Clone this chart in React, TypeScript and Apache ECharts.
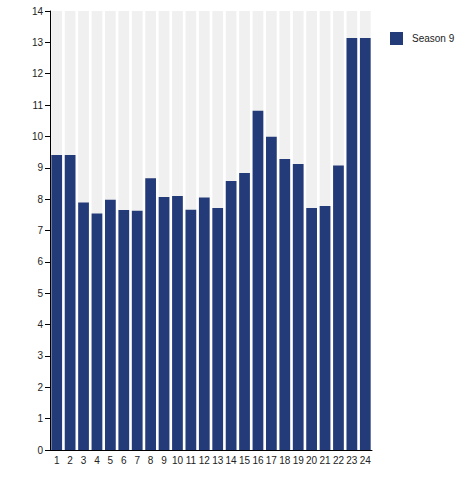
import React, { useEffect, useRef } from "react";
import * as echarts from "echarts";

const categories = ["1","2","3","4","5","6","7","8","9","10","11","12","13","14","15","16","17","18","19","20","21","22","23","24"];
const season9 = [9.41, 9.41, 7.89, 7.54, 7.98, 7.65, 7.63, 8.67, 8.07, 8.10, 7.66, 8.05, 7.72, 8.58, 8.83, 10.82, 9.99, 9.28, 9.12, 7.72, 7.78, 9.07, 13.14, 13.14];
const seriesName = "Season 9";
const yMin = 0;
const yMax = 14;
const yStep = 1;

export default function App() {
  const ref = useRef<HTMLDivElement>(null);
  useEffect(() => {
    if (!ref.current) return;
    const chart = echarts.init(ref.current, null, { renderer: "svg" });
    const font = "'Liberation Sans', Arial, sans-serif";
    chart.setOption({
      animation: false,
      textStyle: { fontFamily: font },
      grid: { left: 50, right: 100, top: 11, bottom: 50, containLabel: false },
      legend: {
        data: [seriesName],
        left: 385,
        top: 27,
        orient: "vertical",
        itemWidth: 13,
        itemHeight: 13,
        icon: "rect",
        textStyle: { fontSize: 10, color: "#222", fontFamily: font, padding: [0, 0, 0, 4] },
      },
      xAxis: {
        type: "category",
        data: categories,
        axisLine: { show: true, lineStyle: { color: "#000", width: 1 } },
        axisTick: { show: false },
        axisLabel: { fontSize: 10, color: "#222", margin: 5, interval: 0, fontFamily: font },
        splitLine: { show: false },
      },
      yAxis: {
        type: "value",
        min: yMin,
        max: yMax,
        interval: yStep,
        axisLine: { show: true, lineStyle: { color: "#000", width: 1 } },
        axisTick: { show: true, length: 5, lineStyle: { color: "#000" } },
        axisLabel: { fontSize: 10, color: "#222", margin: 7, fontFamily: font },
        splitLine: { show: false },
      },
      series: [
        {
          name: seriesName,
          type: "bar",
          data: season9,
          barCategoryGap: "20%",
          itemStyle: { color: "#243b7a" },
          showBackground: true,
          backgroundStyle: { color: "#f0f0f0" },
        },
      ],
    });
    return () => chart.dispose();
  }, []);
  return (
    <div
      ref={ref}
      style={{ position: "absolute", left: 0, top: 0, width: 472, height: 500 }}
    />
  );
}
